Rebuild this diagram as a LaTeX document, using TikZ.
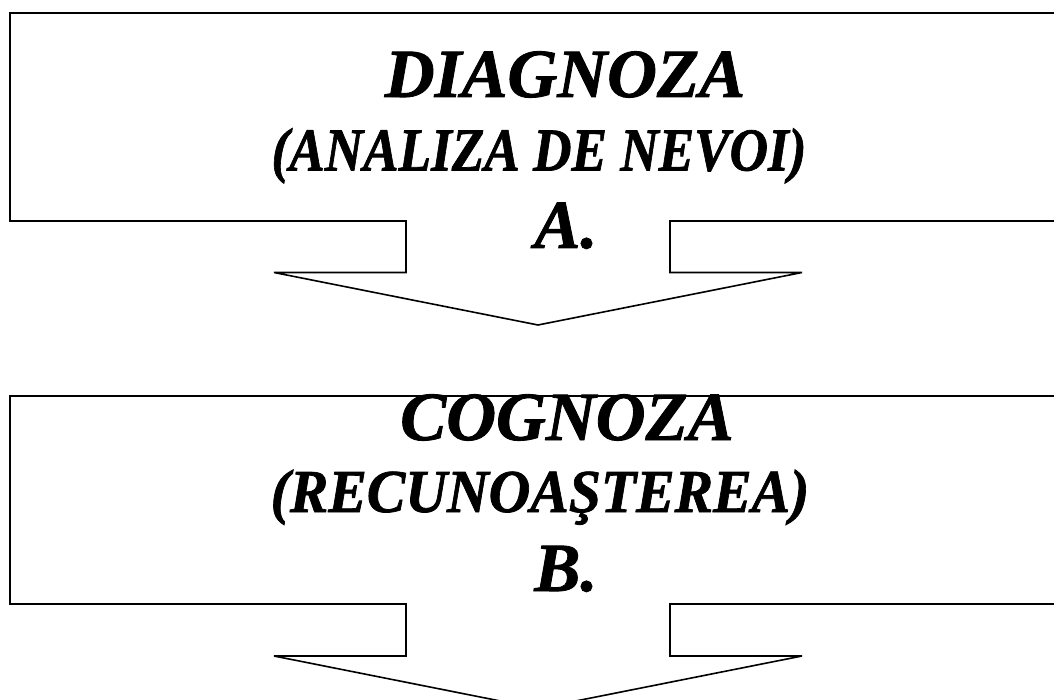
\documentclass[tikz,border=0pt]{standalone}
\usepackage{fontspec}
\setmainfont{Liberation Serif}[BoldItalicFeatures={FakeBold=1.2}]
\begin{document}
\begin{tikzpicture}[x=1pt,y=-1pt,
  callout/.style={draw=black,line width=1.6pt,line join=miter},
  big/.style={anchor=base,inner sep=0pt,font=\fontsize{69}{69}\selectfont\bfseries\itshape},
  mid/.style={anchor=base,inner sep=0pt,transform shape,font=\fontsize{61}{61}\selectfont\bfseries\itshape}]
\clip (0,0) rectangle (1054,700);
\fill[white] (0,0) rectangle (1054,700);
% first callout
\draw[callout] (10,13) -- (1070,13) -- (1070,221) -- (670,221) -- (670,272.5) -- (802,272.5)
  -- (538,325) -- (274,272.5) -- (406,272.5) -- (406,221) -- (10,221) -- cycle;
% second callout
\draw[callout] (10,396) -- (1070,396) -- (1070,604) -- (670,604) -- (670,656) -- (802,656)
  -- (538,708.5) -- (274,656) -- (406,656) -- (406,604) -- (10,604) -- cycle;
\node[big] (t1) at (565,97) {DIAGNOZA};
\node[mid,xscale=0.872] (t2) at (539,170.5) {(ANALIZA DE NEVOI)};
\node[big] (t3) at (566,248) {A.};
\node[big] (u1) at (567,440) {COGNOZA};
\node[mid,xscale=0.946] (u2) at (540,512) {(RECUNOAŞTEREA)};
\node[big] (u3) at (566,591) {B.};
\end{tikzpicture}
\end{document}
